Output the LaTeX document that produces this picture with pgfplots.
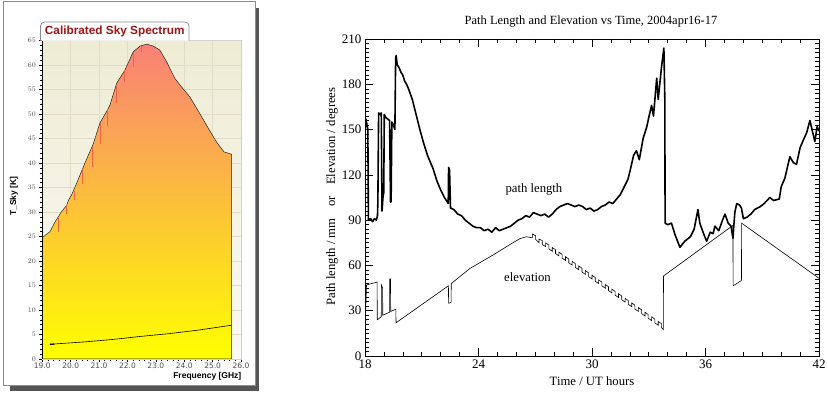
\documentclass[border=0pt]{standalone}
\usepackage{fontspec}
\setmainfont{Liberation Serif}
\newfontfamily\lsans{Liberation Sans}
\newfontfamily\dvsans{DejaVu Sans}
\usepackage{pgfplots}
\pgfplotsset{compat=1.18}
\definecolor{frameg}{RGB}{140,140,140}
\definecolor{shadowg}{RGB}{85,85,85}
\definecolor{titlered}{RGB}{160,20,20}
\definecolor{gridtan}{RGB}{224,220,198}
\definecolor{bgtop}{RGB}{238,236,212}
\definecolor{bgbot}{RGB}{250,250,244}
\definecolor{salmon}{RGB}{248,128,118}
\definecolor{orng}{RGB}{250,168,72}
\definecolor{yell}{RGB}{255,255,0}
\definecolor{spike}{RGB}{238,100,60}

\begin{document}
\begin{tikzpicture}
\useasboundingbox (0,0) rectangle (828pt,393pt);

% left panel: window frame with shadow
\fill[shadowg] (10pt,2pt) rectangle (259pt,385pt);
\filldraw[fill=white, draw=frameg, line width=1pt] (3pt,7pt) rectangle (255pt,391.5pt);

\begin{axis}[
  at={(42.3pt,34pt)}, anchor=south west,
  scale only axis, width=198.7pt, height=318.3pt,
  xmin=19, xmax=26, ymin=0, ymax=65,
  xtick={19,...,26},
  xticklabels={19.0,20.0,21.0,22.0,23.0,24.0,25.0,26.0},
  ytick={0,5,...,65},
  minor x tick num=4, minor y tick num=4,
  tick align=outside, xtick pos=bottom, ytick pos=left,
  major tick length=3pt, minor tick length=2pt,
  tick style={black, line width=0.5pt},
  grid=major, major grid style={gridtan, line width=0.8pt},
  axis line style={draw=gray!35},
  axis background/.style={top color=bgtop, bottom color=bgbot},
  ticklabel style={font=\dvsans\fontsize{7.5}{9}\selectfont, text=black!70},
  xticklabel style={yshift=2.5pt},
  unbounded coords=jump,
]
\addplot[draw=black!85, line width=0.5pt, top color=salmon, middle color=orng, bottom color=yell] coordinates {
  (19.0,24.8) (19.27,26.0) (19.45,28.0) (19.68,30.1) (19.86,31.4) (19.92,32.4)
  (20.03,33.5) (20.21,35.9) (20.5,40.0) (20.8,44.0) (21.03,48.2) (21.27,50.6)
  (21.38,51.8) (21.62,56.3) (21.91,59.0) (22.2,62.7) (22.44,63.9) (22.68,64.3)
  (22.91,63.9) (23.14,63.1) (23.38,60.7) (23.67,57.3) (23.9,55.6) (24.2,53.5)
  (24.55,50.1) (24.85,47.1) (25.14,44.3) (25.4,42.3) (25.67,41.8)
} \closedcycle;
\addplot[spike, line width=0.6pt] coordinates {
  (19.56,28.8) (19.56,26.0) (19.56,nan)
  (19.86,31.4) (19.86,29.6) (19.86,nan)
  (20.14,34.3) (20.14,32.4) (20.14,nan)
  (20.42,38.9) (20.42,35.8) (20.42,nan)
  (20.76,43.2) (20.76,39.2) (20.76,nan)
  (21.03,48.2) (21.03,44.0) (21.03,nan)
  (21.3,51.0) (21.3,47.5) (21.3,nan)
  (21.6,56.0) (21.6,52.2) (21.6,nan)
  (21.9,59.0) (21.9,56.6) (21.9,nan)
  (22.2,62.5) (22.2,59.7) (22.2,nan)
  (22.5,64.0) (22.5,62.7)
};
\addplot[black, line width=0.6pt] coordinates {
  (19.27,3.0) (20.5,3.5) (21.5,4.0) (22.44,4.6) (23.5,5.2) (24.5,5.9) (25.67,6.9)
};
\addplot[black, line width=1.2pt] coordinates {(19.27,3.0) (19.42,3.05)};
\end{axis}
\draw[black, line width=1.2pt] (42.3pt,352.3pt) -- (42.3pt,34pt);
\node[anchor=east, font=\lsans\bfseries\fontsize{8.5}{10}\selectfont, inner sep=0pt] at (241.5pt,17pt) {Frequency [GHz]};
\node[rotate=90, font=\lsans\bfseries\fontsize{8.5}{10}\selectfont, inner sep=0pt] at (14pt,197pt) {T\_Sky [K]};
\filldraw[fill=white, draw=frameg, line width=0.8pt, rounded corners=4pt] (40.5pt,352.3pt) -- (40.5pt,371pt) -- (189pt,371pt) -- (189pt,352.3pt);
\node[font=\lsans\bfseries\fontsize{11.8}{13}\selectfont, text=titlered, inner sep=0pt] at (114.8pt,362pt) {Calibrated Sky Spectrum};

% right panel
\begin{axis}[
  at={(365pt,37pt)}, anchor=south west,
  scale only axis, width=454pt, height=317pt,
  xmin=18, xmax=42, ymin=0, ymax=210,
  xtick={18,24,...,42}, ytick={0,30,...,210},
  minor x tick num=5, minor y tick num=9,
  tick align=inside, major tick length=8pt, minor tick length=4pt,
  axis line style={line width=0.8pt},
  tick style={black, line width=0.6pt},
  ticklabel style={font=\fontsize{13}{15}\selectfont},
  /pgf/number format/assume math mode=true,
]
\addplot[black, line width=1.6pt, line join=round] coordinates {
  (18.00,150) (18.05,157) (18.12,152) (18.15,150) (18.18,90) (18.3,91) (18.4,89)
  (18.5,91) (18.6,90) (18.66,93) (18.68,102) (18.72,161) (18.8,160) (18.86,161)
  (18.9,96) (18.95,105) (18.99,108) (19.02,160) (19.1,158) (19.2,157) (19.3,156)
  (19.35,102) (19.38,102) (19.42,155) (19.5,153) (19.58,150) (19.62,198) (19.65,199)
  (19.7,193) (19.8,191) (19.9,188) (20.0,186) (20.1,182) (20.2,180) (20.3,177)
  (20.5,170) (20.7,160) (20.9,150) (21.1,141) (21.3,133) (21.6,124) (21.8,116)
  (22.0,110) (22.2,105) (22.4,101) (22.42,125) (22.47,123) (22.52,98) (22.7,97)
  (22.9,94) (23.1,93) (23.3,90) (23.5,88) (23.7,86) (23.9,85) (24.1,85) (24.3,83)
  (24.5,84) (24.7,82) (24.9,85) (25.1,83) (25.3,84) (25.5,85) (25.7,86) (25.9,88)
  (26.1,90) (26.3,91) (26.5,93) (26.7,92) (26.9,95) (27.1,94) (27.3,93) (27.5,94)
  (27.7,92) (27.9,94) (28.1,97) (28.3,99) (28.5,100) (28.7,101) (28.9,100) (29.1,99)
  (29.3,100) (29.5,99) (29.7,97) (29.9,98) (30.1,96) (30.3,97) (30.5,99) (30.7,100)
  (30.9,102) (31.1,101) (31.3,104) (31.5,107) (31.7,112) (31.9,117) (32.0,122)
  (32.2,133) (32.35,136) (32.5,130) (32.7,144) (32.9,152) (33.0,158) (33.15,166)
  (33.25,159) (33.42,184) (33.5,170) (33.68,192) (33.8,204) (33.85,170) (33.86,110)
  (33.87,88) (34.0,87) (34.2,88) (34.4,80) (34.65,72) (34.9,76) (35.2,79) (35.4,84)
  (35.6,97) (35.7,88) (35.9,81) (36.06,76) (36.25,82) (36.4,81) (36.5,86) (36.7,83)
  (36.9,90) (37.03,94) (37.2,88) (37.35,86) (37.45,78) (37.55,95) (37.65,101)
  (37.8,100) (37.9,98) (38.0,91) (38.2,92) (38.4,94) (38.6,97) (38.9,99) (39.1,101)
  (39.4,105) (39.6,103) (39.9,104) (40.0,112) (40.2,118) (40.46,132) (40.65,128)
  (40.81,127) (41.0,138) (41.17,143) (41.35,148) (41.52,156) (41.65,149) (41.78,142)
  (41.9,152) (42.0,149)
};
\addplot[black, line width=0.6pt] coordinates {
  (18.00,24) (18.03,27) (18.08,47) (18.2,47.5) (18.5,48.5) (18.64,49) (18.65,24)
  (18.86,26) (18.87,47) (18.93,45) (18.94,27) (19.3,29) (19.31,51) (19.35,51)
  (19.36,29.5) (19.63,31) (19.64,22) (22.41,46.5) (22.42,35) (22.55,35.5) (22.56,48)
  (23.55,58) (24.78,67) (25.75,74.5) (26.2,77.8) (26.54,79)
  (26.85,78.3) (26.85,80.8) (27.02,79.7) (27.02,77.2)
  (27.2,75.0) (27.2,77.5) (27.37,76.4) (27.37,73.9)
  (27.55,72.45) (27.55,74.95) (27.72,73.46) (27.72,70.96)
  (27.9,69.39) (27.9,71.89) (28.07,70.4) (28.07,67.9)
  (28.25,66.33) (28.25,68.83) (28.42,67.34) (28.42,64.84)
  (28.6,63.26) (28.6,65.76) (28.77,64.28) (28.77,61.78)
  (28.95,60.2) (28.95,62.7) (29.12,61.21) (29.12,58.71)
  (29.3,57.14) (29.3,59.64) (29.47,58.15) (29.47,55.65)
  (29.65,54.07) (29.65,56.57) (29.82,55.09) (29.82,52.59)
  (30.0,51.01) (30.0,53.51) (30.17,52.02) (30.17,49.52)
  (30.35,47.95) (30.35,50.45) (30.52,48.96) (30.52,46.46)
  (30.7,44.89) (30.7,47.39) (30.87,45.9) (30.87,43.4)
  (31.05,41.82) (31.05,44.32) (31.22,42.84) (31.22,40.34)
  (31.4,38.76) (31.4,41.26) (31.57,39.77) (31.57,37.27)
  (31.75,35.7) (31.75,38.2) (31.92,36.71) (31.92,34.21)
  (32.1,32.64) (32.1,35.14) (32.27,33.65) (32.27,31.15)
  (32.45,29.57) (32.45,32.07) (32.62,30.59) (32.62,28.09)
  (32.8,26.51) (32.8,29.01) (32.97,27.52) (32.97,25.02)
  (33.15,23.45) (33.15,25.95) (33.32,24.46) (33.32,21.96)
  (33.5,20.39) (33.5,22.89) (33.67,21.4) (33.67,18.9)
  (33.77,17.5) (33.78,53) (37.45,86.5) (37.46,46.5) (37.9,50) (37.91,88) (42,51.5)
};
\node[font=\fontsize{12.7}{15}\selectfont] at (axis cs:26.93,110.6) {path length};
\node[font=\fontsize{12.7}{15}\selectfont] at (axis cs:26.59,52) {elevation};
\end{axis}
\node[font=\fontsize{12.5}{15}\selectfont] at (591pt,371pt) {Path Length and Elevation vs Time, 2004apr16-17};
\node[font=\fontsize{12.7}{15}\selectfont] at (592pt,12pt) {Time / UT hours};
\node[rotate=90, font=\fontsize{12.7}{15}\selectfont] at (332pt,196.5pt) {Path length / mm\hspace{0.9em}or\hspace{0.9em}Elevation / degrees};
\end{tikzpicture}
\end{document}
